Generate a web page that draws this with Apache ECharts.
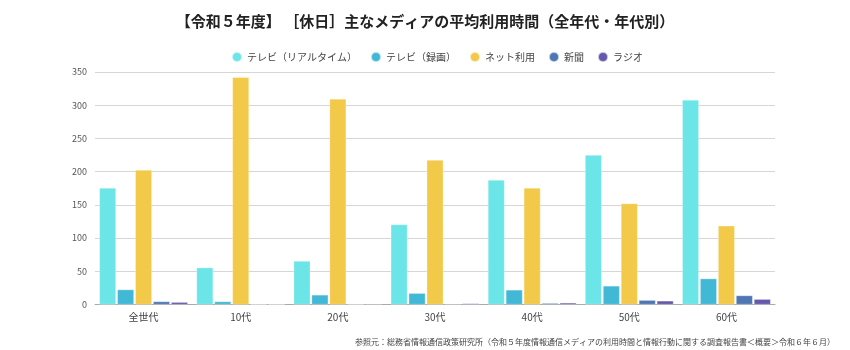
<!DOCTYPE html>
<html>
<head>
<meta charset="utf-8">
<script src="https://cdn.jsdelivr.net/npm/echarts@6/dist/echarts.min.js"></script>
<style>
  html, body { margin: 0; padding: 0; background: #fff; }
  #chart { width: 850px; height: 350px; }
</style>
</head>
<body>
<div id="chart"></div>
<script>
const categories = ['全世代', '10代', '20代', '30代', '40代', '50代', '60代'];
const seriesNames = ['テレビ（リアルタイム）', 'テレビ（録画）', 'ネット利用', '新聞', 'ラジオ'];
const tvReal = [175.5, 55.5, 65.5, 120.5, 187.5, 225, 308];
const tvRec = [22.5, 4.5, 14.5, 17, 22, 28, 39];
const net = [202.5, 342, 309.5, 217.5, 175.5, 152, 118.5];
const paper = [4.5, 0.2, 0.3, 1, 2, 6.5, 13.5];
const radio = [3.5, 0.2, 1, 1.5, 2.5, 5.5, 8];
const colors = ['#6ce5e8', '#41b8d5', '#f3c94a', '#4e76b3', '#6658ab'];

const font = '"Noto Sans CJK JP", "Noto Sans", sans-serif';
const chart = echarts.init(document.getElementById('chart'));

const allData = [tvReal, tvRec, net, paper, radio];

chart.setOption({
  animation: false,
  textStyle: { fontFamily: font },
  title: [
    {
      text: '【令和５年度】 ［休日］主なメディアの平均利用時間（全年代・年代別）',
      left: 'center',
      top: 9,
      textStyle: { fontSize: 15, fontWeight: 'bold', color: '#222', fontFamily: font }
    },
    {
      text: '参照元：総務省情報通信政策研究所（令和５年度情報通信メディアの利用時間と情報行動に関する調査報告書＜概要＞令和６年６月）',
      right: 10,
      top: 333,
      textStyle: { fontSize: 8, fontWeight: 'normal', color: '#444', fontFamily: font }
    }
  ],
  legend: {
    top: 46,
    left: 226,
    icon: 'circle',
    itemWidth: 10,
    itemHeight: 10,
    itemGap: 13,
    textStyle: { fontSize: 10, color: '#444' },
    data: seriesNames
  },
  grid: { left: 95, right: 75, top: 72, bottom: 45.5 },
  xAxis: {
    type: 'category',
    data: categories,
    axisTick: { show: false },
    axisLine: { lineStyle: { color: '#aaa' } },
    axisLabel: { fontSize: 10, color: '#444', margin: 8 }
  },
  yAxis: {
    type: 'value',
    min: 0,
    max: 350,
    interval: 50,
    axisLabel: { fontSize: 9, color: '#555', margin: 8 },
    splitLine: { lineStyle: { color: '#d6d6d6' } }
  },
  series: seriesNames.map((name, i) => ({
    name: name,
    type: 'bar',
    data: allData[i],
    barGap: '8%',
    barCategoryGap: '9%',
    itemStyle: { color: colors[i], borderColor: 'rgba(255,255,255,0.6)', borderWidth: 0.5 }
  }))
});
</script>
</body>
</html>
